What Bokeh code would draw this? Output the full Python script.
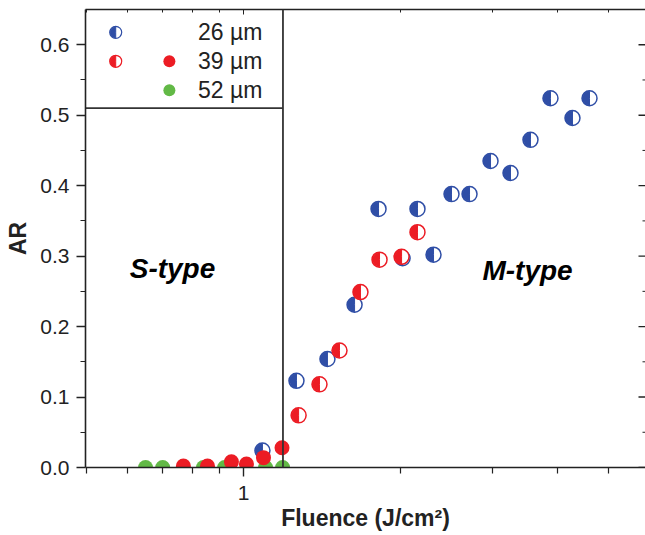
import numpy as np
from bokeh.plotting import figure
from bokeh.models import (FixedTicker, LogAxis, PrintfTickFormatter, Span)
from bokeh.core.properties import value
from bokeh.embed import file_html
from bokeh.resources import INLINE

# --- data -------------------------------------------------------------
# 26 um spot, M-type (half-filled markers)
f26 = [1.087, 1.263, 1.448, 1.632, 1.814, 2.017, 2.154, 2.312, 2.503, 2.710,
       2.973, 3.247, 3.546, 3.873, 4.268, 4.601]
ar26 = [0.024, 0.123, 0.154, 0.231, 0.367, 0.297, 0.367, 0.302, 0.388, 0.388,
        0.435, 0.418, 0.465, 0.524, 0.496, 0.524]

# 39 um spot, M-type (half-filled) and S-type (filled)
f39_half = [1.275, 1.398, 1.527, 1.675, 1.822, 2.008, 2.154]
ar39_half = [0.074, 0.118, 0.166, 0.249, 0.295, 0.299, 0.334]
f39_full = [0.767, 0.853, 0.948, 1.013, 1.092, 1.185]
ar39_full = [0.002, 0.002, 0.008, 0.005, 0.014, 0.028]

# 52 um spot, S-type (filled)
f52 = [0.649, 0.700, 0.838, 0.920, 1.102, 1.188]
ar52 = [0.0, 0.0, 0.0, 0.0, 0.0, 0.0]

threshold = 1.19
y_ticks = [0.0, 0.1, 0.2, 0.3, 0.4, 0.5, 0.6]
y_minor = [0.05, 0.15, 0.25, 0.35, 0.45, 0.55]
x_ticks = [1]
x_minor = [0.5, 0.6, 0.7, 0.8, 0.9, 2, 3, 4, 5]

BLUE = "#2f4ea6"
RED = "#ec1c24"
GREEN = "#62b946"
INK = "#222222"
FONT = "Liberation Sans"

X0, X1 = 0.498, 5.89
Y0, Y1 = 0.0, 0.65
FRAME_W, FRAME_H = 560, 458
DECADE_PX = FRAME_W / (np.log10(X1) - np.log10(X0))

p = figure(frame_width=FRAME_W, frame_height=FRAME_H, x_axis_type="log",
           x_range=(X0, X1), y_range=(Y0, Y1),
           output_backend="svg", toolbar_location=None,
           min_border_left=85, min_border_right=0, min_border_top=9,
           min_border_bottom=68)
p.grid.visible = False
p.outline_line_color = None
p.background_fill_color = "white"

# bottom axis
xa = p.xaxis[0]
xa.ticker = FixedTicker(ticks=x_ticks, minor_ticks=x_minor)
xa.major_label_overrides = {1: "1"}
xa.axis_label = "Fluence (J/cm²)"
xa.axis_label_text_font = FONT
xa.axis_label_text_font_style = "bold"
xa.axis_label_text_font_size = "23px"
xa.axis_label_text_color = INK
xa.axis_label_standoff = 2
xa.major_label_text_font = FONT
xa.major_label_text_font_size = "21px"
xa.major_label_text_color = INK
xa.major_label_standoff = 9
xa.major_tick_out = 9
xa.major_tick_in = 0
xa.minor_tick_out = 6
xa.minor_tick_in = 0
xa.axis_line_color = INK
xa.axis_line_width = 1.6
xa.major_tick_line_color = INK
xa.major_tick_line_width = 1.4
xa.minor_tick_line_color = INK
xa.minor_tick_line_width = 1.2

# left axis
ya = p.yaxis[0]
ya.ticker = FixedTicker(ticks=y_ticks, minor_ticks=y_minor)
ya.formatter = PrintfTickFormatter(format="%.1f")
ya.axis_label = "AR"
ya.axis_label_text_font = FONT
ya.axis_label_text_font_style = "bold"
ya.axis_label_text_font_size = "23px"
ya.axis_label_text_color = INK
ya.axis_label_standoff = 6
ya.major_label_text_font = FONT
ya.major_label_text_font_size = "21px"
ya.major_label_text_color = INK
ya.major_label_standoff = 7
ya.major_tick_out = 9
ya.major_tick_in = 0
ya.minor_tick_out = 5
ya.minor_tick_in = 0
ya.axis_line_color = INK
ya.axis_line_width = 1.6
ya.major_tick_line_color = INK
ya.major_tick_line_width = 1.4
ya.minor_tick_line_color = INK
ya.minor_tick_line_width = 1.2

# mirrored top axis, ticks pointing inward, labels hidden
top = LogAxis(ticker=FixedTicker(ticks=x_ticks, minor_ticks=x_minor),
              major_label_text_font_size="1px", major_label_text_alpha=0,
              major_label_standoff=0,
              major_tick_in=5, major_tick_out=0, minor_tick_in=3, minor_tick_out=0,
              axis_line_color=INK, axis_line_width=1.6,
              major_tick_line_color=INK, minor_tick_line_color=INK)
p.add_layout(top, "above")


# inward ticks along the right edge of the frame
def tick_start(length_px):
    return X1 / 10 ** (length_px / DECADE_PX)


p.segment(x0=[tick_start(7)] * len(y_ticks), y0=y_ticks, x1=[X1] * len(y_ticks), y1=y_ticks,
          line_color=INK, line_width=1.4)
p.segment(x0=[tick_start(3)] * len(y_minor), y0=y_minor, x1=[X1] * len(y_minor), y1=y_minor,
          line_color=INK, line_width=1.0)


def half_markers(xs, ys, color, r=7):
    # white disc with coloured rim, left half filled
    p.scatter(xs, ys, size=2 * r + 1, fill_color="white", line_color=color, line_width=1.5)
    p.wedge(xs, ys, radius=r, radius_units="screen",
            start_angle=np.pi / 2, end_angle=3 * np.pi / 2,
            fill_color=color, line_color=color, line_width=1)


# markers
p.scatter(f52, ar52, size=15, fill_color=GREEN, line_color=None)
half_markers(f26, ar26, BLUE)
p.scatter(f39_full, ar39_full, size=15, fill_color=RED, line_color=None)
half_markers(f39_half, ar39_half, RED)

# S/M regime divider and legend frame
p.add_layout(Span(location=threshold, dimension="height", line_color="#333333", line_width=1.8))
p.segment(x0=[X0], y0=[0.51], x1=[threshold], y1=[0.51], line_color="#333333", line_width=1.8)

# legend
p.scatter([0.569], [0.6176], size=12, fill_color="white", line_color=BLUE, line_width=1.2)
p.wedge([0.569], [0.6176], radius=5.5, radius_units="screen", start_angle=np.pi / 2,
        end_angle=3 * np.pi / 2, fill_color=BLUE, line_color=BLUE)
p.scatter([0.569], [0.5765], size=12, fill_color="white", line_color=RED, line_width=1.2)
p.wedge([0.569], [0.5765], radius=5.5, radius_units="screen", start_angle=np.pi / 2,
        end_angle=3 * np.pi / 2, fill_color=RED, line_color=RED)
p.scatter([0.721], [0.5765], size=12, fill_color=RED, line_color=None)
p.scatter([0.721], [0.5354], size=12, fill_color=GREEN, line_color=None)
p.text(x=[1.087] * 3, y=[0.6176, 0.5765, 0.5354], text=["26 µm", "39 µm", "52 µm"],
       text_align="right", text_baseline="middle", text_font=value(FONT),
       text_font_size="23px", text_color=INK)

# regime labels
p.text(x=[0.731, 3.50], y=[0.283, 0.279], text=["S-type", "M-type"],
       text_align="center", text_baseline="middle", text_font=value(FONT),
       text_font_style="bold italic", text_font_size="28px", text_color="black")

open("out.html", "w").write(file_html(p, INLINE))
